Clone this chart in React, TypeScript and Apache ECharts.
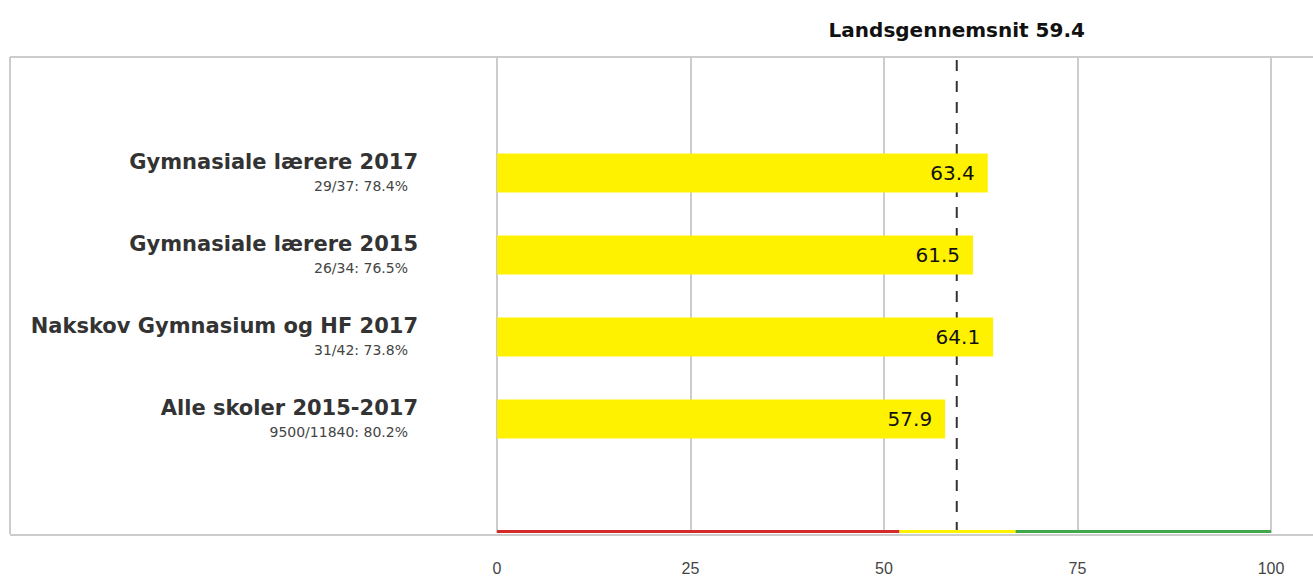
import React, { useEffect, useRef } from "react";
import * as echarts from "echarts";

const categories = [
  "Gymnasiale lærere 2017",
  "Gymnasiale lærere 2015",
  "Nakskov Gymnasium og HF 2017",
  "Alle skoler 2015-2017",
];
const subLabels = ["29/37: 78.4%", "26/34: 76.5%", "31/42: 73.8%", "9500/11840: 80.2%"];
const values = [63.4, 61.5, 64.1, 57.9];
const nationalAverage = 59.4;
const averageLabel = "Landsgennemsnit 59.4";
const bands = [
  { from: 0, to: 52, color: "#d42a2a" },
  { from: 52, to: 67, color: "#fff200" },
  { from: 67, to: 100, color: "#3ea84a" },
];

export default function App() {
  const ref = useRef<HTMLDivElement>(null);
  useEffect(() => {
    if (!ref.current) return;
    const chart = echarts.init(ref.current, null, { renderer: "svg" });
    const subMap: Record<string, string> = {};
    categories.forEach((c, i) => (subMap[c] = subLabels[i]));
    const option: any = {
      animation: false,
      grid: [
        { left: 497, right: 42, top: 57, bottom: 43 },
        { left: 497, right: 42, top: 132, height: 328 },
      ],
      xAxis: [
        {
          gridIndex: 0,
          type: "value",
          min: 0,
          max: 100,
          interval: 25,
          axisLine: { show: false },
          axisTick: { show: false },
          axisLabel: { margin: 27, fontSize: 16, color: "#444", fontFamily: "Liberation Sans" },
          splitLine: { show: true, lineStyle: { color: "#cccccc", width: 2 } },
        },
        {
          gridIndex: 1,
          type: "value",
          min: 0,
          max: 100,
          show: false,
          splitLine: { show: false },
        },
      ],
      yAxis: [
        { gridIndex: 0, type: "value", min: 0, max: 1, show: false, splitLine: { show: false } },
        {
          gridIndex: 1,
          type: "category",
          inverse: true,
          data: categories,
          axisLine: { show: false },
          axisTick: { show: false },
          axisLabel: {
            margin: 79,
            align: "right",
            formatter: (v: string) => `{a|${v}}\n{b|${subMap[v]}}`,
            rich: {
              a: { fontSize: 21, fontWeight: "bold", color: "#333", fontFamily: "DejaVu Sans", lineHeight: 26, align: "right" },
              b: { fontSize: 14, color: "#444", fontFamily: "DejaVu Sans", lineHeight: 22, align: "right", padding: [0, 10, 0, 0] },
            },
          },
        },
      ],
      series: [
        {
          type: "line",
          xAxisIndex: 0,
          yAxisIndex: 0,
          data: [
            [nationalAverage, 0],
            [nationalAverage, 1],
          ],
          symbol: "none",
          silent: true,
          z: 1,
          lineStyle: { color: "#333", width: 2, type: [11, 10] },
          markLine: {
            symbol: "none",
            silent: true,
            data: [
              {
                xAxis: nationalAverage,
                lineStyle: { color: "rgba(0,0,0,0)", width: 1, type: "solid" },
                label: {
                  show: true,
                  position: "end",
                  formatter: averageLabel,
                  fontSize: 20,
                  fontWeight: "bold",
                  color: "#111",
                  fontFamily: "DejaVu Sans",
                  distance: 17,
                },
              },
              ...bands.map((b) => [
                { coord: [b.from, 0.003], lineStyle: { color: b.color, width: 3, type: "solid" }, label: { show: false } },
                { coord: [b.to, 0.003] },
              ]),
            ],
          },
        },
        {
          type: "bar",
          xAxisIndex: 1,
          yAxisIndex: 1,
          data: values,
          barWidth: 39,
          z: 10,
          itemStyle: { color: "#fff200" },
          label: {
            show: true,
            position: "insideRight",
            distance: 13,
            formatter: (p: any) => p.value.toFixed(1),
            fontSize: 20,
            color: "#111",
            fontFamily: "DejaVu Sans",
          },
        },
      ],
      graphic: [
        { type: "line", shape: { x1: 10, y1: 57, x2: 1313, y2: 57 }, style: { stroke: "#cccccc", lineWidth: 2 } },
        { type: "line", shape: { x1: 10, y1: 57, x2: 10, y2: 534 }, style: { stroke: "#cccccc", lineWidth: 2 } },
        { type: "line", shape: { x1: 10, y1: 535, x2: 1313, y2: 535 }, style: { stroke: "#cccccc", lineWidth: 2 } },
      ],
    };
    chart.setOption(option);
    return () => chart.dispose();
  }, []);
  return (
    <div
      ref={ref}
      style={{ position: "fixed", left: 0, top: 0, width: 1313, height: 576, background: "#fff" }}
    />
  );
}
